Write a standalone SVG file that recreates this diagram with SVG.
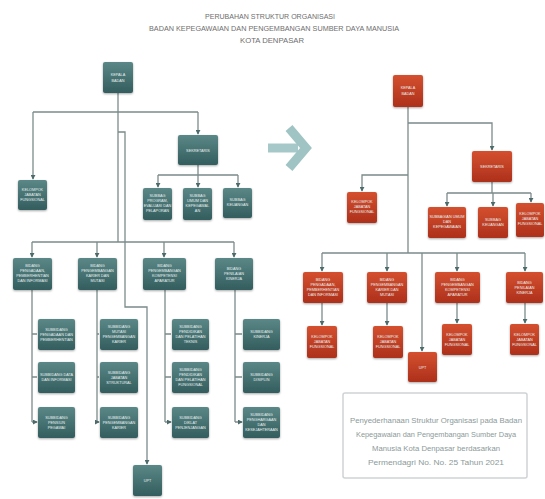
<svg xmlns="http://www.w3.org/2000/svg" width="545" height="499" viewBox="0 0 545 499">
<defs>
<linearGradient id="gT" x1="0" y1="0" x2="0" y2="1"><stop offset="0" stop-color="#5b8787"/><stop offset="1" stop-color="#335d5e"/></linearGradient>
<linearGradient id="gR" x1="0" y1="0" x2="0" y2="1"><stop offset="0" stop-color="#d4502f"/><stop offset="1" stop-color="#ad301b"/></linearGradient>
<filter id="sh" x="-30%" y="-30%" width="160%" height="160%"><feGaussianBlur in="SourceAlpha" stdDeviation="1.3"/><feOffset dx="0" dy="1"/><feComponentTransfer><feFuncA type="linear" slope="0.35"/></feComponentTransfer><feMerge><feMergeNode/><feMergeNode in="SourceGraphic"/></feMerge></filter>
<marker id="ar" viewBox="0 0 6 6" refX="5" refY="3" markerWidth="5" markerHeight="5" orient="auto" markerUnits="userSpaceOnUse"><path d="M0,0 L6,3 L0,6 z" fill="#4d6b6b"/></marker>
</defs>
<style>
.t{fill:url(#gT);filter:url(#sh)}
.r{fill:url(#gR);filter:url(#sh)}
.lab{font-family:"Liberation Sans",Arial,sans-serif;font-size:3.8px;fill:#e8f0ef;text-anchor:middle}
.c{fill:none;stroke:#7b8b8a;stroke-width:1.3}
.ca{fill:none;stroke:#7b8b8a;stroke-width:1.3;marker-end:url(#ar)}
.ttl{font-family:"Liberation Sans",Arial,sans-serif;font-size:7px;fill:#6e6e6e;text-anchor:middle}
.cap{font-family:"Liberation Sans",Arial,sans-serif;font-size:7.4px;fill:#8b9a99;text-anchor:middle}
</style>
<rect width="545" height="499" fill="#ffffff"/>
<g id="title">
<text class="ttl" x="270" y="19" textLength="130" lengthAdjust="spacingAndGlyphs">PERUBAHAN STRUKTUR ORGANISASI</text>
<text class="ttl" x="274" y="31" textLength="250" lengthAdjust="spacingAndGlyphs">BADAN KEPEGAWAIAN DAN PENGEMBANGAN SUMBER DAYA MANUSIA</text>
<text class="ttl" x="272" y="43" textLength="64" lengthAdjust="spacingAndGlyphs">KOTA DENPASAR</text>
</g>
<g id="connectors">
<!-- left -->
<path class="c" d="M118,93 V242"/>
<path class="c" d="M33,112 H198"/>
<path class="ca" d="M33,112 V179"/>
<path class="ca" d="M198,112 V134"/>
<path class="c" d="M198,165 V175 M158,175 H238"/>
<path class="ca" d="M158,175 V187"/>
<path class="ca" d="M198,175 V187"/>
<path class="ca" d="M238,175 V187"/>
<path class="ca" d="M118,132 H125 V307 H147 V464"/>
<path class="c" d="M32,242 H234"/>
<path class="ca" d="M32,242 V257"/>
<path class="ca" d="M97,242 V257"/>
<path class="ca" d="M164,242 V257"/>
<path class="ca" d="M234,242 V257"/>
<path class="c" d="M32,290 V422 M97,290 V422 M165,290 V422 M235,290 V422"/>
<path class="ca" d="M32,334 H37 M32,377 H37 M32,422 H37"/>
<path class="ca" d="M97,334 H99 M97,377 H99 M97,422 H99"/>
<path class="ca" d="M165,334 H171 M165,377 H171 M165,422 H171"/>
<path class="ca" d="M235,334 H242 M235,377 H242 M235,422 H242"/>
<!-- right -->
<path class="c" d="M408,107 V253"/>
<path class="ca" d="M408,123 H492 V150"/>
<path class="ca" d="M408,175 H362 V191"/>
<path class="c" d="M492,182 V193 M447,193 H531"/>
<path class="ca" d="M447,193 V206"/>
<path class="ca" d="M493,193 V206"/>
<path class="ca" d="M531,193 V202"/>
<path class="c" d="M322,253 H525"/>
<path class="ca" d="M322,253 V271"/>
<path class="ca" d="M387,253 V271"/>
<path class="ca" d="M457,253 V271"/>
<path class="ca" d="M525,253 V271"/>
<path class="ca" d="M322,303 V325"/>
<path class="ca" d="M387,303 V325"/>
<path class="ca" d="M457,303 V323"/>
<path class="ca" d="M525,303 V323"/>
<path class="ca" d="M422,253 V351"/>
</g>
<g id="arrow-big">
<path d="M268,148 H298" stroke="#a6c8c8" stroke-width="9" fill="none"/>
<path d="M289,128 L306,148 L289,168" stroke="#a0c4c4" stroke-width="9" fill="none" stroke-linejoin="miter"/>
</g>
<!-- LEFT nodes -->
<g id="l-kepala"><rect class="t" x="103" y="62" width="30" height="31" rx="2"/><text class="lab" x="118" y="76">KEPALA</text><text class="lab" x="118" y="82">BADAN</text></g>
<g id="l-sekretaris"><rect class="t" x="178" y="135" width="40" height="30" rx="2"/><text class="lab" x="198" y="151.5">SEKRETARIS</text></g>
<g id="l-kjf"><rect class="t" x="18" y="180" width="29" height="30" rx="2"/><text class="lab" x="32.5" y="191">KELOMPOK</text><text class="lab" x="32.5" y="196">JABATAN</text><text class="lab" x="32.5" y="201">FUNGSIONAL</text></g>
<g id="l-sub1"><rect class="t" x="143" y="188" width="29" height="32" rx="2"/><text class="lab" x="157.5" y="197">SUBBAG</text><text class="lab" x="157.5" y="202">PROGRAM,</text><text class="lab" x="157.5" y="207">EVALUASI DAN</text><text class="lab" x="157.5" y="212">PELAPORAN</text></g>
<g id="l-sub2"><rect class="t" x="183" y="188" width="29" height="32" rx="2"/><text class="lab" x="197.5" y="197">SUBBAG</text><text class="lab" x="197.5" y="202">UMUM DAN</text><text class="lab" x="197.5" y="207">KEPEGAWAI-</text><text class="lab" x="197.5" y="212">AN</text></g>
<g id="l-sub3"><rect class="t" x="223" y="188" width="29" height="30" rx="2"/><text class="lab" x="237.5" y="201">SUBBAG</text><text class="lab" x="237.5" y="206">KEUANGAN</text></g>
<g id="l-bid1"><rect class="t" x="13" y="258" width="39" height="32" rx="2"/><text class="lab" x="32.5" y="267">BIDANG</text><text class="lab" x="32.5" y="272">PENGADAAN,</text><text class="lab" x="32.5" y="277">PEMBERHENTIAN</text><text class="lab" x="32.5" y="282">DAN INFORMASI</text></g>
<g id="l-bid2"><rect class="t" x="78" y="258" width="39" height="32" rx="2"/><text class="lab" x="97.5" y="267">BIDANG</text><text class="lab" x="97.5" y="272">PENGEMBANGAN</text><text class="lab" x="97.5" y="277">KARIER DAN</text><text class="lab" x="97.5" y="282">MUTASI</text></g>
<g id="l-bid3"><rect class="t" x="143" y="258" width="43" height="32" rx="2"/><text class="lab" x="164.5" y="267">BIDANG</text><text class="lab" x="164.5" y="272">PENGEMBANGAN</text><text class="lab" x="164.5" y="277">KOMPETENSI</text><text class="lab" x="164.5" y="282">APARATUR</text></g>
<g id="l-bid4"><rect class="t" x="215" y="258" width="38" height="32" rx="2"/><text class="lab" x="234" y="270">BIDANG</text><text class="lab" x="234" y="275">PENILAIAN</text><text class="lab" x="234" y="280">KINERJA</text></g>
<g id="l-sb11"><rect class="t" x="38" y="319" width="37" height="31" rx="2"/><text class="lab" x="56.5" y="331">SUBBIDANG</text><text class="lab" x="56.5" y="336">PENGADAAN DAN</text><text class="lab" x="56.5" y="341">PEMBERHENTIAN</text></g>
<g id="l-sb12"><rect class="t" x="38" y="362" width="37" height="31" rx="2"/><text class="lab" x="56.5" y="376">SUBBIDANG DATA</text><text class="lab" x="56.5" y="381">DAN INFORMASI</text></g>
<g id="l-sb13"><rect class="t" x="38" y="407" width="37" height="31" rx="2"/><text class="lab" x="56.5" y="419">SUBBIDANG</text><text class="lab" x="56.5" y="424">PENSIUN</text><text class="lab" x="56.5" y="429">PEGAWAI</text></g>
<g id="l-sb21"><rect class="t" x="100" y="319" width="38" height="31" rx="2"/><text class="lab" x="119" y="328">SUBBIDANG</text><text class="lab" x="119" y="333">MUTASI</text><text class="lab" x="119" y="338">PENGEMBANGAN</text><text class="lab" x="119" y="343">KARIER</text></g>
<g id="l-sb22"><rect class="t" x="100" y="362" width="38" height="31" rx="2"/><text class="lab" x="119" y="374">SUBBIDANG</text><text class="lab" x="119" y="379">JABATAN</text><text class="lab" x="119" y="384">STRUKTURAL</text></g>
<g id="l-sb23"><rect class="t" x="100" y="407" width="38" height="31" rx="2"/><text class="lab" x="119" y="419">SUBBIDANG</text><text class="lab" x="119" y="424">PENGEMBANGAN</text><text class="lab" x="119" y="429">KARIER</text></g>
<g id="l-sb31"><rect class="t" x="172" y="319" width="37" height="31" rx="2"/><text class="lab" x="190.5" y="328">SUBBIDANG</text><text class="lab" x="190.5" y="333">PENDIDIKAN</text><text class="lab" x="190.5" y="338">DAN PELATIHAN</text><text class="lab" x="190.5" y="343">TEKNIS</text></g>
<g id="l-sb32"><rect class="t" x="172" y="362" width="37" height="31" rx="2"/><text class="lab" x="190.5" y="371">SUBBIDANG</text><text class="lab" x="190.5" y="376">PENDIDIKAN</text><text class="lab" x="190.5" y="381">DAN PELATIHAN</text><text class="lab" x="190.5" y="386">FUNGSIONAL</text></g>
<g id="l-sb33"><rect class="t" x="172" y="407" width="37" height="31" rx="2"/><text class="lab" x="190.5" y="419">SUBBIDANG</text><text class="lab" x="190.5" y="424">DIKLAT</text><text class="lab" x="190.5" y="429">PENJENJANGAN</text></g>
<g id="l-sb41"><rect class="t" x="243" y="319" width="37" height="31" rx="2"/><text class="lab" x="261.5" y="333">SUBBIDANG</text><text class="lab" x="261.5" y="338">KINERJA</text></g>
<g id="l-sb42"><rect class="t" x="243" y="362" width="37" height="31" rx="2"/><text class="lab" x="261.5" y="376">SUBBIDANG</text><text class="lab" x="261.5" y="381">DISIPLIN</text></g>
<g id="l-sb43"><rect class="t" x="243" y="407" width="37" height="31" rx="2"/><text class="lab" x="261.5" y="416">SUBBIDANG</text><text class="lab" x="261.5" y="421">PENGHARGAAN</text><text class="lab" x="261.5" y="426">DAN</text><text class="lab" x="261.5" y="431">KESEJAHTERAAN</text></g>
<g id="l-upt"><rect class="t" x="133" y="465" width="29" height="31" rx="2"/><text class="lab" x="147.5" y="482">UPT</text></g>
<!-- RIGHT nodes -->
<g id="r-kepala"><rect class="r" x="393" y="75" width="30" height="32" rx="2"/><text class="lab" x="408" y="89">KEPALA</text><text class="lab" x="408" y="95">BADAN</text></g>
<g id="r-sekretaris"><rect class="r" x="472" y="151" width="40" height="31" rx="2"/><text class="lab" x="492" y="168">SEKRETARIS</text></g>
<g id="r-kjf"><rect class="r" x="347" y="192" width="30" height="31" rx="2"/><text class="lab" x="362" y="203">KELOMPOK</text><text class="lab" x="362" y="208">JABATAN</text><text class="lab" x="362" y="213">FUNGSIONAL</text></g>
<g id="r-sub1"><rect class="r" x="428" y="207" width="38" height="31" rx="2"/><text class="lab" x="447" y="218">SUBBAGIAN UMUM</text><text class="lab" x="447" y="223">DAN</text><text class="lab" x="447" y="228">KEPEGAWAIAN</text></g>
<g id="r-sub2"><rect class="r" x="478" y="207" width="30" height="31" rx="2"/><text class="lab" x="493" y="221">SUBBAG</text><text class="lab" x="493" y="226">KEUANGAN</text></g>
<g id="r-sub3"><rect class="r" x="516" y="203" width="28" height="34" rx="2"/><text class="lab" x="530" y="215">KELOMPOK</text><text class="lab" x="530" y="220">JABATAN</text><text class="lab" x="530" y="225">FUNGSIONAL</text></g>
<g id="r-bid1"><rect class="r" x="303" y="272" width="40" height="31" rx="2"/><text class="lab" x="323" y="281">BIDANG</text><text class="lab" x="323" y="286">PENGADAAN,</text><text class="lab" x="323" y="291">PEMBERHENTIAN</text><text class="lab" x="323" y="296">DAN INFORMASI</text></g>
<g id="r-bid2"><rect class="r" x="367" y="272" width="40" height="31" rx="2"/><text class="lab" x="387" y="281">BIDANG</text><text class="lab" x="387" y="286">PENGEMBANGAN</text><text class="lab" x="387" y="291">KARIER DAN</text><text class="lab" x="387" y="296">MUTASI</text></g>
<g id="r-bid3"><rect class="r" x="435" y="272" width="45" height="31" rx="2"/><text class="lab" x="457.5" y="281">BIDANG</text><text class="lab" x="457.5" y="286">PENGEMBANGAN</text><text class="lab" x="457.5" y="291">KOMPETENSI</text><text class="lab" x="457.5" y="296">APARATUR</text></g>
<g id="r-bid4"><rect class="r" x="506" y="272" width="37" height="31" rx="2"/><text class="lab" x="524.5" y="284">BIDANG</text><text class="lab" x="524.5" y="289">PENILAIAN</text><text class="lab" x="524.5" y="294">KINERJA</text></g>
<g id="r-kjf1"><rect class="r" x="307" y="326" width="30" height="32" rx="2"/><text class="lab" x="322" y="338">KELOMPOK</text><text class="lab" x="322" y="343">JABATAN</text><text class="lab" x="322" y="348">FUNGSIONAL</text></g>
<g id="r-kjf2"><rect class="r" x="373" y="326" width="30" height="32" rx="2"/><text class="lab" x="388" y="338">KELOMPOK</text><text class="lab" x="388" y="343">JABATAN</text><text class="lab" x="388" y="348">FUNGSIONAL</text></g>
<g id="r-kjf3"><rect class="r" x="442" y="324" width="30" height="31" rx="2"/><text class="lab" x="457" y="336">KELOMPOK</text><text class="lab" x="457" y="341">JABATAN</text><text class="lab" x="457" y="346">FUNGSIONAL</text></g>
<g id="r-kjf4"><rect class="r" x="510" y="324" width="29" height="31" rx="2"/><text class="lab" x="524.5" y="336">KELOMPOK</text><text class="lab" x="524.5" y="341">JABATAN</text><text class="lab" x="524.5" y="346">FUNGSIONAL</text></g>
<g id="r-upt"><rect class="r" x="408" y="352" width="29" height="30" rx="2"/><text class="lab" x="422.5" y="368.5">UPT</text></g>
<g id="caption">
<rect x="343" y="393" width="184" height="85" rx="2" fill="#ffffff" stroke="#cfd3d3" stroke-width="1.5"/>
<text class="cap" x="436" y="423" textLength="172" lengthAdjust="spacingAndGlyphs">Penyederhanaan Struktur Organisasi pada Badan</text>
<text class="cap" x="436" y="437" textLength="160" lengthAdjust="spacingAndGlyphs">Kepegawaian dan Pengembangan Sumber Daya</text>
<text class="cap" x="436" y="451" textLength="128" lengthAdjust="spacingAndGlyphs">Manusia Kota Denpasar berdasarkan</text>
<text class="cap" x="436" y="465" textLength="136" lengthAdjust="spacingAndGlyphs">Permendagri No. No. 25 Tahun 2021</text>
</g>
</svg>
